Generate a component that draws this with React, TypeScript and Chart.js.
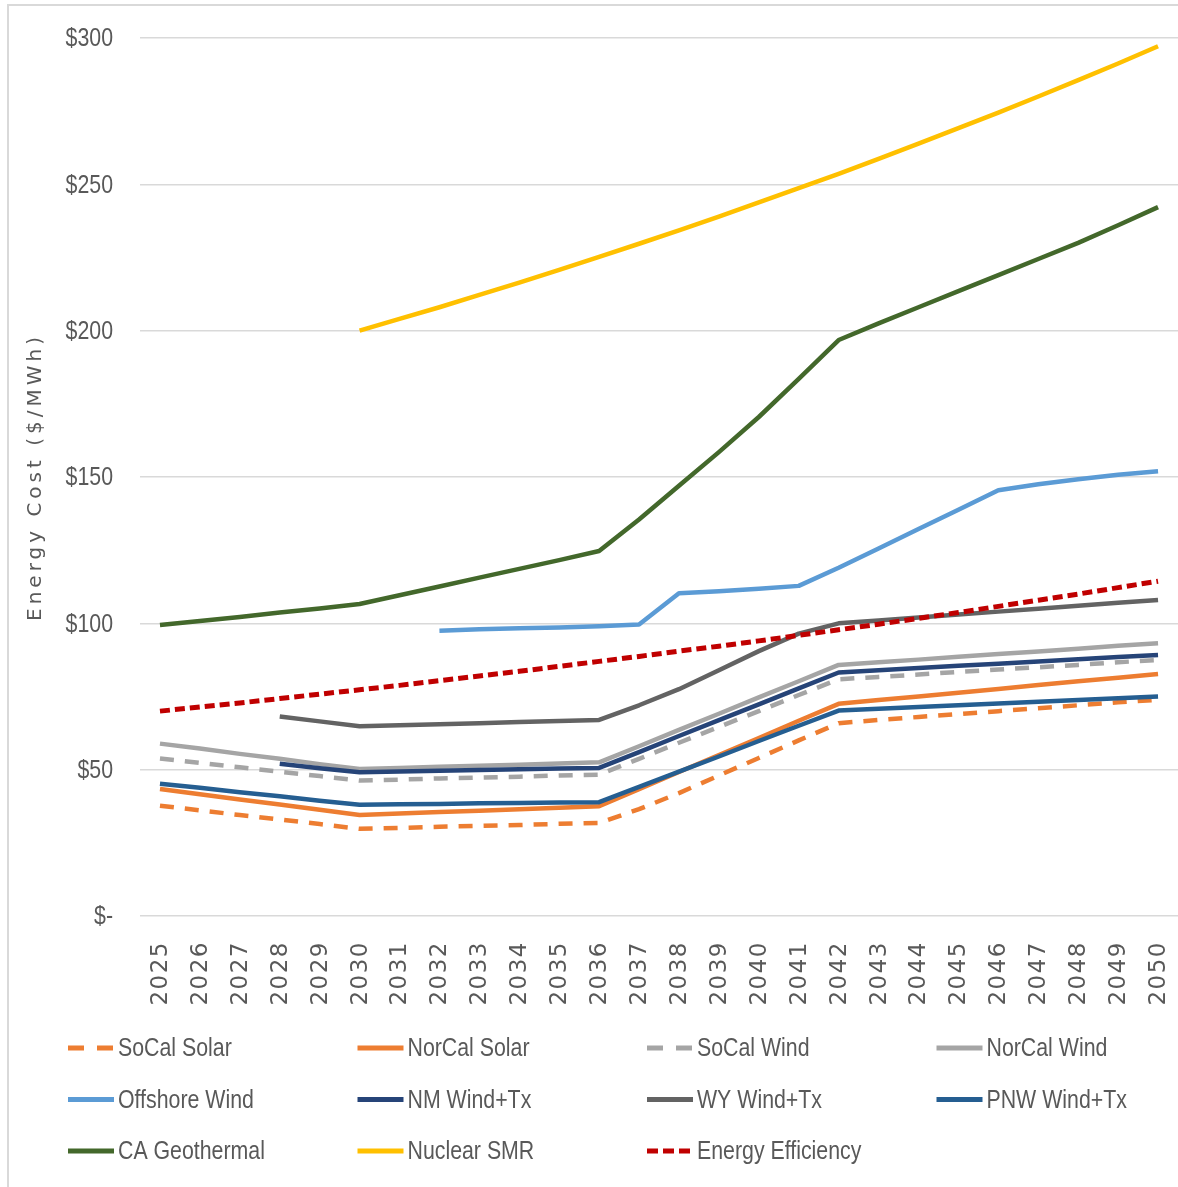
import React, { useEffect, useRef } from 'react';
import { Chart, registerables } from 'chart.js';

Chart.register(...registerables);

const years = ['2025', '2026', '2027', '2028', '2029', '2030', '2031', '2032', '2033', '2034', '2035', '2036', '2037',
  '2038', '2039', '2040', '2041', '2042', '2043', '2044', '2045', '2046', '2047', '2048', '2049', '2050'];

const yTickValues = [0, 50, 100, 150, 200, 250, 300];
const yTickLabels = ['$-', '$50', '$100', '$150', '$200', '$250', '$300'];
const yTitle = 'Energy Cost ($/MWh)';

const socalSolar = [37.7, 36.1, 34.5, 33.0, 31.4, 29.8, 30.1, 30.5, 30.8, 31.1, 31.5, 31.8, 36.5, 42, 48, 54, 60, 65.9, 67, 68, 69, 70, 71, 72, 73, 73.9];
const norcalSolar = [43.4, 41.6, 39.8, 38.1, 36.3, 34.5, 35.0, 35.5, 36.0, 36.5, 37.0, 37.5, 43.3, 49.2, 55, 60.8, 66.7, 72.5, 73.8, 75, 76.3, 77.6, 78.9, 80.2, 81.4, 82.7];
const socalWind = [53.8, 52.3, 50.8, 49.3, 47.8, 46.3, 46.6, 47.0, 47.3, 47.6, 48.0, 48.3, 53.7, 59.2, 64.6, 70.0, 75.5, 80.9, 81.7, 82.5, 83.4, 84.2, 85.0, 85.8, 86.7, 87.5];
const norcalWind = [58.9, 57.2, 55.4, 53.7, 51.9, 50.2, 50.6, 51.0, 51.3, 51.7, 52.1, 52.5, 58.0, 63.6, 69.1, 74.7, 80.2, 85.8, 86.7, 87.6, 88.6, 89.5, 90.4, 91.3, 92.3, 93.2];
const offshoreWind = [null, null, null, null, null, null, null, 97.5, 98, 98.3, 98.6, 99, 99.6, 110.3, 111, 111.8, 112.8, 119, 125.6, 132.2, 138.8, 145.5, 147.5, 149.2, 150.8, 152];
const nmWindTx = [null, null, null, 52.0, 50.5, 49.1, 49.4, 49.6, 49.9, 50.1, 50.4, 50.6, 56.0, 61.5, 66.9, 72.3, 77.8, 83.2, 84.0, 84.7, 85.5, 86.2, 87.0, 87.7, 88.5, 89.2];
const wyWindTx = [null, null, null, 68.2, 66.5, 64.8, 65.2, 65.5, 65.9, 66.3, 66.6, 67.0, 72, 77.5, 84, 90.5, 96.5, 100, 101, 102, 103, 104, 105, 106, 107, 108];
const pnwWindTx = [45.2, 43.8, 42.3, 40.9, 39.4, 38.0, 38.2, 38.3, 38.5, 38.6, 38.8, 38.9, 44.1, 49.3, 54.5, 59.8, 65.0, 70.2, 70.8, 71.4, 72.0, 72.6, 73.2, 73.8, 74.4, 75.0];
const caGeothermal = [99.4, 100.8, 102.2, 103.7, 105.1, 106.6, 109.6, 112.6, 115.6, 118.6, 121.6, 124.7, 135.5, 147, 158.5, 170.5, 183.5, 196.8, 202.5, 208, 213.5, 219, 224.5, 230, 236, 242.2];
const nuclearSMR = [null, null, null, null, null, 200, 204, 208, 212.2, 216.4, 220.8, 225.2, 229.7, 234.3, 239, 243.8, 248.7, 253.6, 258.7, 263.9, 269.2, 274.5, 280, 285.6, 291.3, 297.2];
const energyEfficiency = [70, 71.4, 72.8, 74.3, 75.8, 77.3, 78.8, 80.4, 82, 83.6, 85.3, 87, 88.7, 90.5, 92.2, 94, 95.9, 97.8, 99.7, 101.7, 103.7, 105.8, 107.9, 110, 112.2, 114.4];

const seriesLabels = ['SoCal Solar', 'NorCal Solar', 'SoCal Wind', 'NorCal Wind', 'Offshore Wind', 'NM Wind+Tx',
  'WY Wind+Tx', 'PNW Wind+Tx', 'CA Geothermal', 'Nuclear SMR', 'Energy Efficiency'];
const seriesData = [socalSolar, norcalSolar, socalWind, norcalWind, offshoreWind, nmWindTx, wyWindTx, pnwWindTx,
  caGeothermal, nuclearSMR, energyEfficiency];
const seriesColors = ['#ED7D31', '#ED7D31', '#A5A5A5', '#A5A5A5', '#5B9BD5', '#264478', '#636363', '#255E91',
  '#43682B', '#FFC000', '#C00000'];
const seriesDash: number[][] = [[14, 11], [], [14, 11], [], [], [], [], [], [], [], [10, 5]];
const legendDash: number[][] = [[16, 13], [], [16, 13], [], [], [], [], [], [], [], [11, 5]];

const TEXT = '#595959';
const SANS = '"Liberation Sans", Arial, sans-serif';
const WIDE = '"DejaVu Sans", sans-serif';
const SQUEEZE = 0.82;

const textPlugin = {
  id: 'textPlugin',
  afterDraw(chart: any) {
    const ctx = chart.ctx as CanvasRenderingContext2D;
    const xs = chart.scales.x;
    const ys = chart.scales.y;
    const area = chart.chartArea;
    ctx.save();
    ctx.fillStyle = TEXT;
    // y tick labels (condensed)
    ctx.font = '26px ' + SANS;
    ctx.textAlign = 'right';
    ctx.textBaseline = 'middle';
    yTickValues.forEach((v, i) => {
      const py = ys.getPixelForValue(v);
      ctx.save();
      ctx.translate(area.left - 27, py + 1);
      ctx.scale(SQUEEZE, 1);
      ctx.fillText(yTickLabels[i], 0, 0);
      ctx.restore();
    });
    // x tick labels
    ctx.font = '23px ' + WIDE;
    (ctx as any).letterSpacing = '1.5px';
    ctx.textAlign = 'right';
    ctx.textBaseline = 'middle';
    years.forEach((lab, i) => {
      const px = xs.getPixelForValue(i);
      ctx.save();
      ctx.translate(px + 1, area.bottom + 25);
      ctx.rotate(-Math.PI / 2);
      ctx.fillText(lab, 0, 0);
      ctx.restore();
    });
    // y title
    ctx.font = '20px ' + WIDE;
    (ctx as any).letterSpacing = '4px';
    ctx.textAlign = 'center';
    ctx.save();
    ctx.translate(36, (area.top + area.bottom) / 2);
    ctx.rotate(-Math.PI / 2);
    ctx.fillText(yTitle, 0, 0);
    ctx.restore();
    // legend
    (ctx as any).letterSpacing = '0px';
    ctx.font = '26px ' + SANS;
    ctx.textAlign = 'left';
    seriesLabels.forEach((lab, i) => {
      const col = i % 4;
      const row = Math.floor(i / 4);
      const x0 = 68 + col * 289.5;
      const y = 1048 + row * 51.5;
      ctx.save();
      ctx.strokeStyle = seriesColors[i];
      ctx.lineWidth = 5;
      ctx.lineCap = 'butt';
      ctx.setLineDash(legendDash[i]);
      ctx.beginPath();
      ctx.moveTo(x0, y);
      ctx.lineTo(x0 + 46, y);
      ctx.stroke();
      ctx.restore();
      ctx.save();
      ctx.fillStyle = TEXT;
      ctx.translate(x0 + 50, y + 1);
      ctx.scale(SQUEEZE, 1);
      ctx.fillText(lab, 0, 0);
      ctx.restore();
    });
    ctx.restore();
  },
};

export default function App() {
  const ref = useRef<HTMLCanvasElement | null>(null);
  useEffect(() => {
    if (!ref.current) return;
    const n = seriesLabels.length;
    const chart = new Chart(ref.current, {
      type: 'line',
      data: {
        labels: years,
        datasets: seriesLabels.map((lab, i) => ({
          label: lab,
          data: seriesData[i] as any,
          borderColor: seriesColors[i],
          backgroundColor: seriesColors[i],
          borderWidth: i === n - 1 ? 5 : 4.5,
          borderDash: seriesDash[i],
          borderCapStyle: 'butt' as const,
          borderJoinStyle: 'round' as const,
          pointRadius: 0,
          tension: 0,
          fill: false,
          order: n - i,
        })),
      },
      options: {
        animation: false,
        responsive: false,
        devicePixelRatio: 1,
        layout: { padding: { top: 38, left: 0, right: 0, bottom: 0 } },
        plugins: {
          legend: { display: false },
          tooltip: { enabled: false },
          title: { display: false },
        },
        scales: {
          x: {
            type: 'category',
            offset: true,
            grid: { display: false, drawTicks: false },
            border: { display: false },
            ticks: { display: false },
            afterFit: (s: any) => { s.height = 271; },
          },
          y: {
            min: 0,
            max: 300,
            afterBuildTicks: (s: any) => { s.ticks = yTickValues.map((v) => ({ value: v })); },
            grid: { color: '#D9D9D9', lineWidth: 1.5, drawTicks: false },
            border: { display: false },
            ticks: { display: false },
            afterFit: (s: any) => { s.width = 140; },
          },
        },
      },
      plugins: [textPlugin],
    });
    return () => chart.destroy();
  }, []);

  return (
    <div style={{ position: 'absolute', left: 0, top: 0, width: 1178, height: 1187, background: '#fff', overflow: 'hidden' }}>
      <div style={{ position: 'absolute', left: 7, top: 4, width: 1200, height: 1200, borderLeft: '2px solid #D9D9D9', borderTop: '2px solid #D9D9D9' }} />
      <canvas ref={ref} width={1178} height={1187} style={{ position: 'absolute', left: 0, top: 0, width: 1178, height: 1187 }} />
    </div>
  );
}
